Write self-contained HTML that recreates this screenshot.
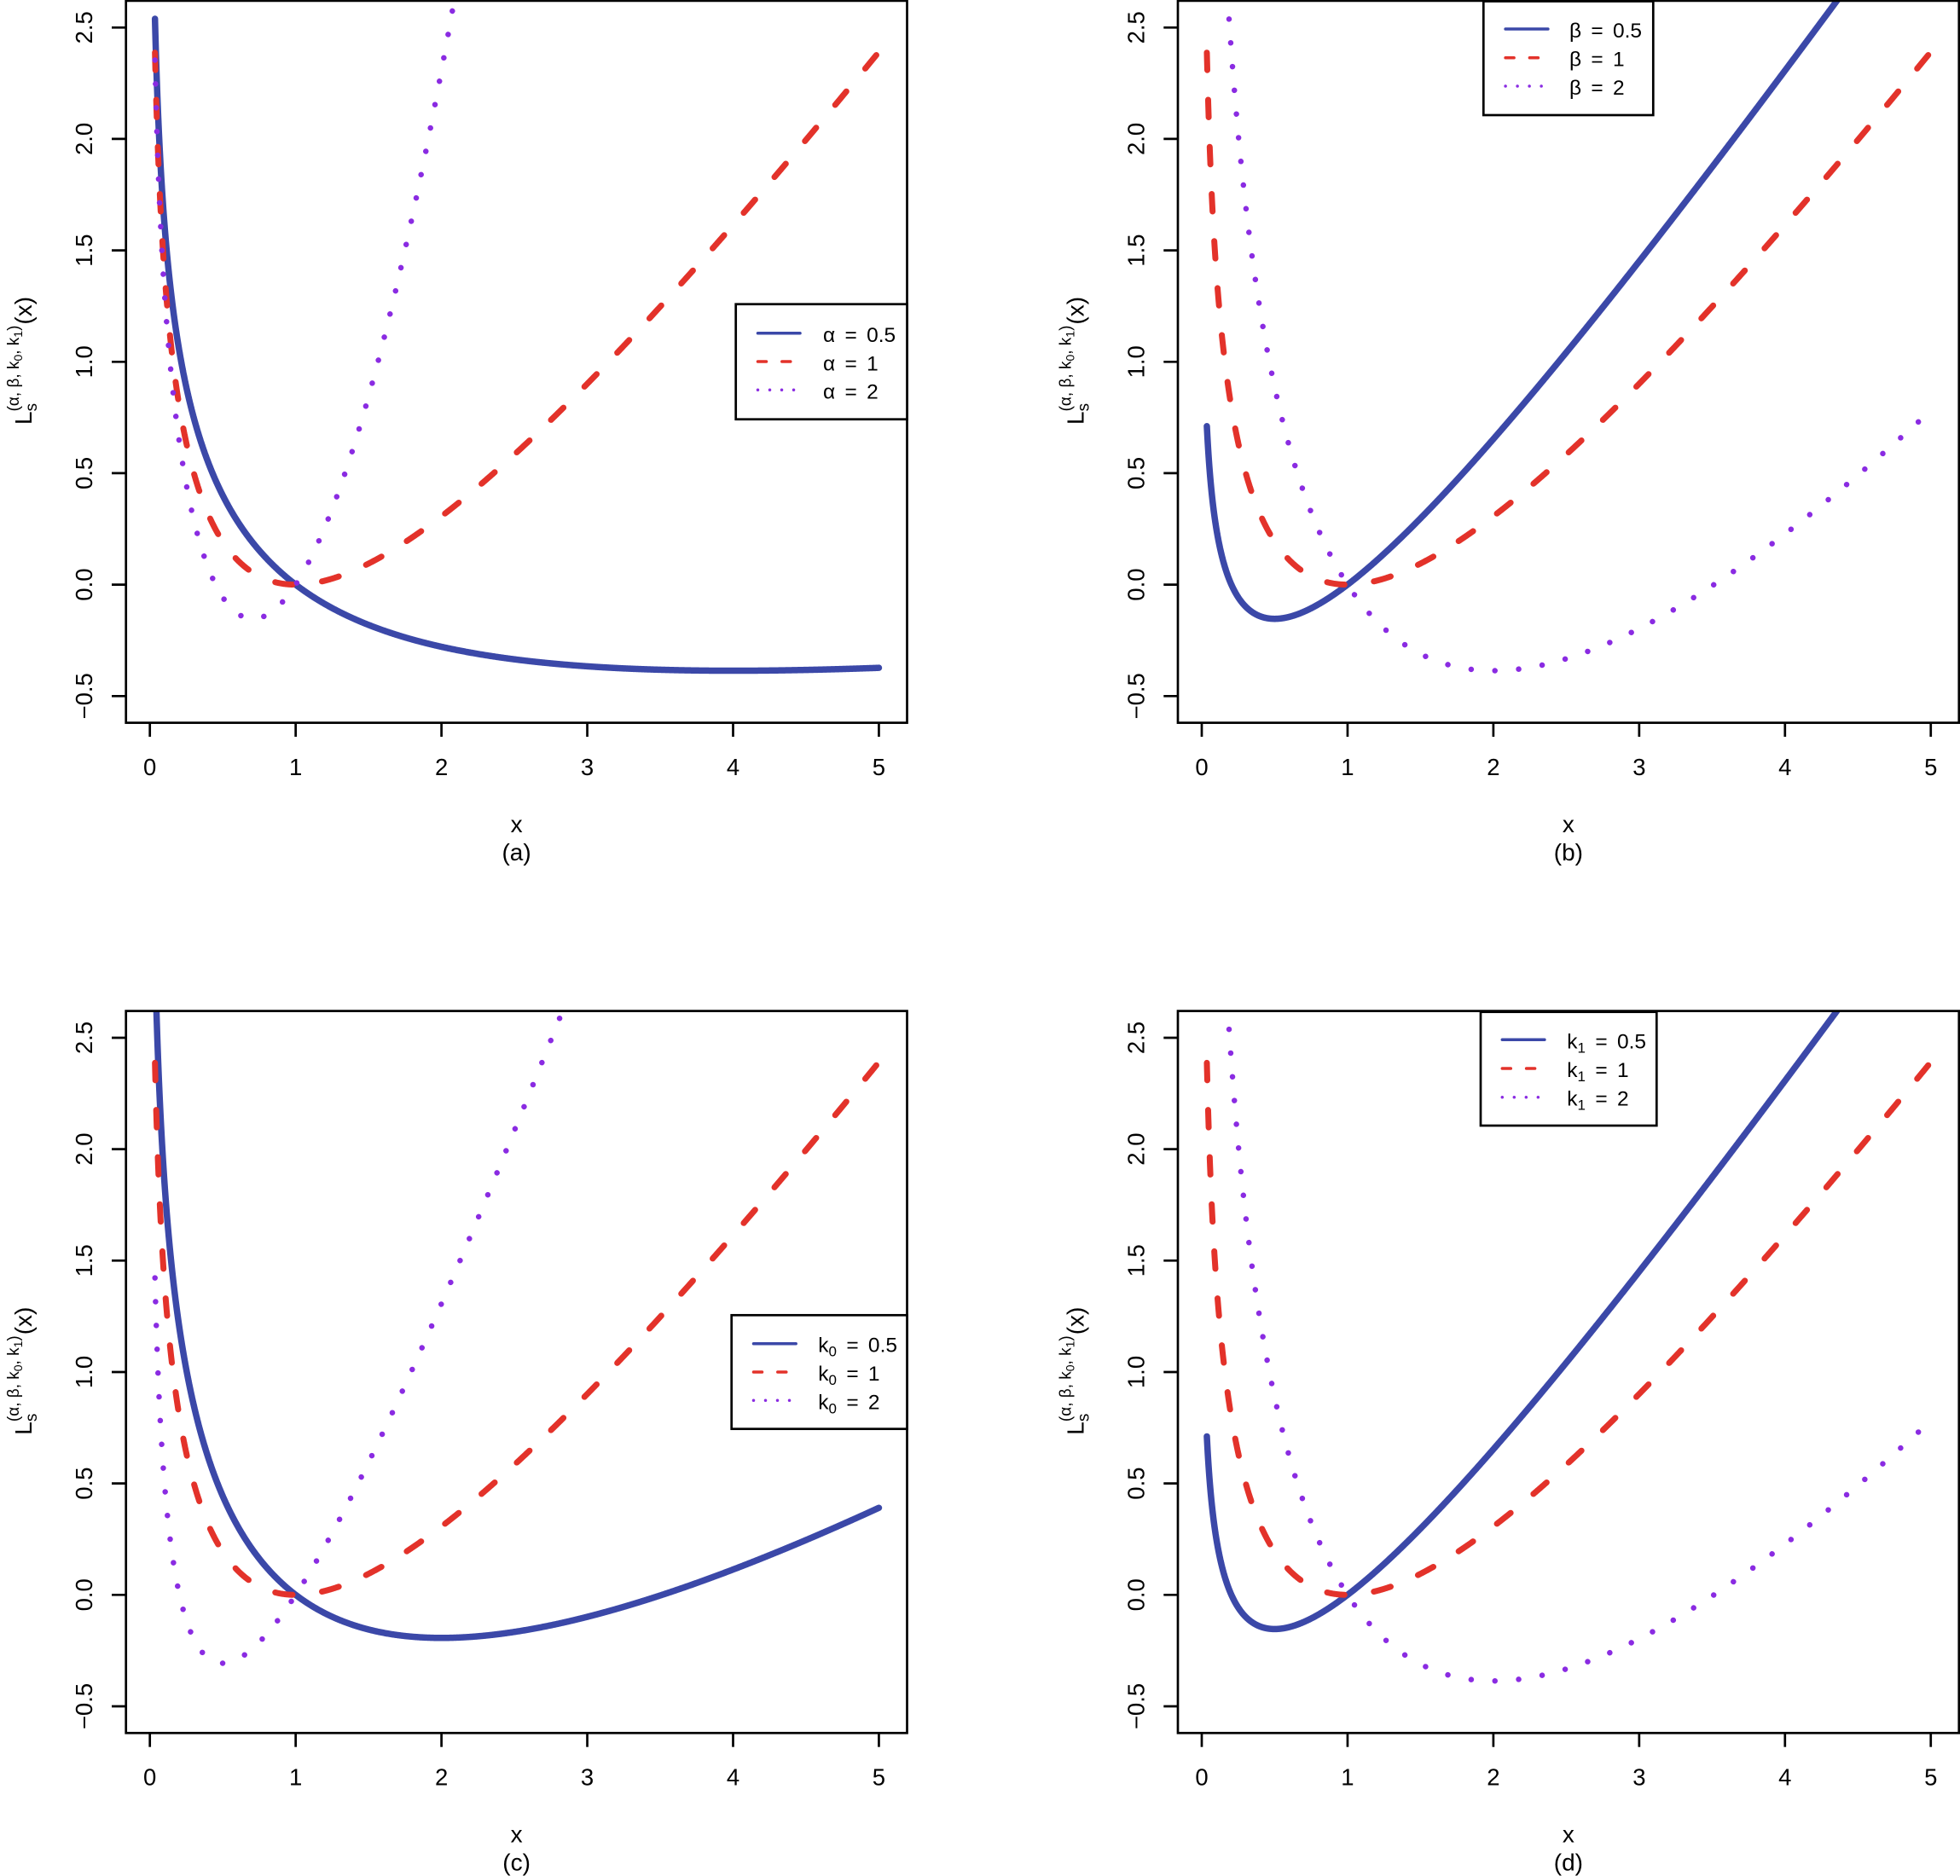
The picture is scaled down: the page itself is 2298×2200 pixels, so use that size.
<!DOCTYPE html>
<html>
<head>
<meta charset="utf-8">
<style>
html,body{margin:0;padding:0;background:#fff;}
svg{display:block;}
text{font-family:"Liberation Sans",Arial,sans-serif;fill:#000;}
.tk{font-size:27.5px;}
.lg{font-size:24.5px;word-spacing:4.5px;}
</style>
</head>
<body>
<svg id="s" xmlns="http://www.w3.org/2000/svg" width="2298" height="2200" viewBox="0 0 2298 2200">
<defs>
<clipPath id="clp" clipPathUnits="userSpaceOnUse"><rect x="147.7" y="0.9" width="915.8" height="846.7"/></clipPath>
<g id="axes">
<rect x="147.7" y="0.9" width="915.8" height="846.7" fill="none" stroke="#000" stroke-width="2.7"/>
<g stroke="#000" stroke-width="2.7">
<line x1="131" y1="816.3" x2="147.7" y2="816.3"/>
<line x1="131" y1="685.6" x2="147.7" y2="685.6"/>
<line x1="131" y1="554.9" x2="147.7" y2="554.9"/>
<line x1="131" y1="424.3" x2="147.7" y2="424.3"/>
<line x1="131" y1="293.6" x2="147.7" y2="293.6"/>
<line x1="131" y1="162.9" x2="147.7" y2="162.9"/>
<line x1="131" y1="32.3" x2="147.7" y2="32.3"/>
<line x1="175.7" y1="847.6" x2="175.7" y2="864"/>
<line x1="346.65" y1="847.6" x2="346.65" y2="864"/>
<line x1="517.6" y1="847.6" x2="517.6" y2="864"/>
<line x1="688.55" y1="847.6" x2="688.55" y2="864"/>
<line x1="859.5" y1="847.6" x2="859.5" y2="864"/>
<line x1="1030.45" y1="847.6" x2="1030.45" y2="864"/>
</g>
</g>
</defs>

<!-- Panel a -->
<g id="pa">
<g clip-path="url(#clp)" id="ca"></g>
<use href="#axes"/>
<g class="tk" text-anchor="middle">
<text transform="translate(108,816.3) rotate(-90)">−0.5</text>
<text transform="translate(108,685.6) rotate(-90)">0.0</text>
<text transform="translate(108,554.9) rotate(-90)">0.5</text>
<text transform="translate(108,424.3) rotate(-90)">1.0</text>
<text transform="translate(108,293.6) rotate(-90)">1.5</text>
<text transform="translate(108,162.9) rotate(-90)">2.0</text>
<text transform="translate(108,32.3) rotate(-90)">2.5</text>
<text x="175.7" y="909">0</text><text x="346.65" y="909">1</text><text x="517.6" y="909">2</text>
<text x="688.55" y="909">3</text><text x="859.5" y="909">4</text><text x="1030.45" y="909">5</text>
<text x="605.6" y="976" font-size="28">x</text>
<text x="605.6" y="1009" font-size="28">(a)</text>
</g>
<text transform="translate(37,498) rotate(-90)" font-size="28">L<tspan font-size="19" dy="6">s</tspan><tspan font-size="19" x="15.6" dy="-21">(α, β, k</tspan><tspan font-size="14" dy="4">0</tspan><tspan font-size="19" dy="-4">, k</tspan><tspan font-size="14" dy="4">1</tspan><tspan font-size="19" dy="-4">)</tspan><tspan dx="1" dy="15">(x)</tspan></text>
<rect x="862.7" y="356.7" width="200.8" height="135" fill="#fff" stroke="#000" stroke-width="2.7"/>
<line x1="888.5" y1="390.7" x2="938" y2="390.7" stroke="#3b48a8" stroke-width="3.5" stroke-linecap="round"/>
<line x1="888.5" y1="424" x2="938" y2="424" stroke="#e3322a" stroke-width="3.5" stroke-linecap="round" stroke-dasharray="10 18.3"/>
<line x1="888.5" y1="457.3" x2="938" y2="457.3" stroke="#8a2be2" stroke-width="3.5" stroke-linecap="round" stroke-dasharray="0.01 14"/>
<text class="lg" x="965" y="401">α = 0.5</text>
<text class="lg" x="965" y="434.3">α = 1</text>
<text class="lg" x="965" y="467.6">α = 2</text>
</g>

<!-- Panel b -->
<g id="pb" transform="translate(1233.3,0)">
<g clip-path="url(#clp)" id="cb"></g>
<use href="#axes"/>
<g class="tk" text-anchor="middle">
<text transform="translate(108,816.3) rotate(-90)">−0.5</text>
<text transform="translate(108,685.6) rotate(-90)">0.0</text>
<text transform="translate(108,554.9) rotate(-90)">0.5</text>
<text transform="translate(108,424.3) rotate(-90)">1.0</text>
<text transform="translate(108,293.6) rotate(-90)">1.5</text>
<text transform="translate(108,162.9) rotate(-90)">2.0</text>
<text transform="translate(108,32.3) rotate(-90)">2.5</text>
<text x="175.7" y="909">0</text><text x="346.65" y="909">1</text><text x="517.6" y="909">2</text>
<text x="688.55" y="909">3</text><text x="859.5" y="909">4</text><text x="1030.45" y="909">5</text>
<text x="605.6" y="976" font-size="28">x</text>
<text x="605.6" y="1009" font-size="28">(b)</text>
</g>
<text transform="translate(37,498) rotate(-90)" font-size="28">L<tspan font-size="19" dy="6">s</tspan><tspan font-size="19" x="15.6" dy="-21">(α, β, k</tspan><tspan font-size="14" dy="4">0</tspan><tspan font-size="19" dy="-4">, k</tspan><tspan font-size="14" dy="4">1</tspan><tspan font-size="19" dy="-4">)</tspan><tspan dx="1" dy="15">(x)</tspan></text>
<rect x="506" y="1.5" width="199" height="133.5" fill="#fff" stroke="#000" stroke-width="2.7"/>
<line x1="531.8" y1="34" x2="581.6" y2="34" stroke="#3b48a8" stroke-width="3.5" stroke-linecap="round"/>
<line x1="531.8" y1="67.7" x2="581.6" y2="67.7" stroke="#e3322a" stroke-width="3.5" stroke-linecap="round" stroke-dasharray="10 18.3"/>
<line x1="531.8" y1="101" x2="581.6" y2="101" stroke="#8a2be2" stroke-width="3.5" stroke-linecap="round" stroke-dasharray="0.01 14"/>
<text class="lg" x="606.7" y="44">β = 0.5</text>
<text class="lg" x="606.7" y="77.7">β = 1</text>
<text class="lg" x="606.7" y="111">β = 2</text>
</g>

<!-- Panel c -->
<g id="pc" transform="translate(0,1184.7)">
<g clip-path="url(#clp)" id="cc"></g>
<use href="#axes"/>
<g class="tk" text-anchor="middle">
<text transform="translate(108,816.3) rotate(-90)">−0.5</text>
<text transform="translate(108,685.6) rotate(-90)">0.0</text>
<text transform="translate(108,554.9) rotate(-90)">0.5</text>
<text transform="translate(108,424.3) rotate(-90)">1.0</text>
<text transform="translate(108,293.6) rotate(-90)">1.5</text>
<text transform="translate(108,162.9) rotate(-90)">2.0</text>
<text transform="translate(108,32.3) rotate(-90)">2.5</text>
<text x="175.7" y="909">0</text><text x="346.65" y="909">1</text><text x="517.6" y="909">2</text>
<text x="688.55" y="909">3</text><text x="859.5" y="909">4</text><text x="1030.45" y="909">5</text>
<text x="605.6" y="976" font-size="28">x</text>
<text x="605.6" y="1009" font-size="28">(c)</text>
</g>
<text transform="translate(37,498) rotate(-90)" font-size="28">L<tspan font-size="19" dy="6">s</tspan><tspan font-size="19" x="15.6" dy="-21">(α, β, k</tspan><tspan font-size="14" dy="4">0</tspan><tspan font-size="19" dy="-4">, k</tspan><tspan font-size="14" dy="4">1</tspan><tspan font-size="19" dy="-4">)</tspan><tspan dx="1" dy="15">(x)</tspan></text>
<rect x="857.7" y="357.6" width="205.8" height="133.4" fill="#fff" stroke="#000" stroke-width="2.7"/>
<line x1="883.5" y1="391" x2="933.2" y2="391" stroke="#3b48a8" stroke-width="3.5" stroke-linecap="round"/>
<line x1="883.5" y1="424.3" x2="933.2" y2="424.3" stroke="#e3322a" stroke-width="3.5" stroke-linecap="round" stroke-dasharray="10 18.3"/>
<line x1="883.5" y1="457.6" x2="933.2" y2="457.6" stroke="#8a2be2" stroke-width="3.5" stroke-linecap="round" stroke-dasharray="0.01 14"/>
<text class="lg" x="959.3" y="401">k<tspan font-size="17" dy="5">0</tspan><tspan dy="-5"> = 0.5</tspan></text>
<text class="lg" x="959.3" y="434.3">k<tspan font-size="17" dy="5">0</tspan><tspan dy="-5"> = 1</tspan></text>
<text class="lg" x="959.3" y="467.6">k<tspan font-size="17" dy="5">0</tspan><tspan dy="-5"> = 2</tspan></text>
</g>

<!-- Panel d -->
<g id="pd" transform="translate(1233.3,1184.7)">
<g clip-path="url(#clp)" id="cd"></g>
<use href="#axes"/>
<g class="tk" text-anchor="middle">
<text transform="translate(108,816.3) rotate(-90)">−0.5</text>
<text transform="translate(108,685.6) rotate(-90)">0.0</text>
<text transform="translate(108,554.9) rotate(-90)">0.5</text>
<text transform="translate(108,424.3) rotate(-90)">1.0</text>
<text transform="translate(108,293.6) rotate(-90)">1.5</text>
<text transform="translate(108,162.9) rotate(-90)">2.0</text>
<text transform="translate(108,32.3) rotate(-90)">2.5</text>
<text x="175.7" y="909">0</text><text x="346.65" y="909">1</text><text x="517.6" y="909">2</text>
<text x="688.55" y="909">3</text><text x="859.5" y="909">4</text><text x="1030.45" y="909">5</text>
<text x="605.6" y="976" font-size="28">x</text>
<text x="605.6" y="1009" font-size="28">(d)</text>
</g>
<text transform="translate(37,498) rotate(-90)" font-size="28">L<tspan font-size="19" dy="6">s</tspan><tspan font-size="19" x="15.6" dy="-21">(α, β, k</tspan><tspan font-size="14" dy="4">0</tspan><tspan font-size="19" dy="-4">, k</tspan><tspan font-size="14" dy="4">1</tspan><tspan font-size="19" dy="-4">)</tspan><tspan dx="1" dy="15">(x)</tspan></text>
<rect x="502.7" y="2" width="206.3" height="133.3" fill="#fff" stroke="#000" stroke-width="2.7"/>
<line x1="528" y1="34.6" x2="577.6" y2="34.6" stroke="#3b48a8" stroke-width="3.5" stroke-linecap="round"/>
<line x1="528" y1="68.3" x2="577.6" y2="68.3" stroke="#e3322a" stroke-width="3.5" stroke-linecap="round" stroke-dasharray="10 18.3"/>
<line x1="528" y1="102" x2="577.6" y2="102" stroke="#8a2be2" stroke-width="3.5" stroke-linecap="round" stroke-dasharray="0.01 14"/>
<text class="lg" x="604" y="44.6">k<tspan font-size="17" dy="5">1</tspan><tspan dy="-5"> = 0.5</tspan></text>
<text class="lg" x="604" y="78.3">k<tspan font-size="17" dy="5">1</tspan><tspan dy="-5"> = 1</tspan></text>
<text class="lg" x="604" y="112">k<tspan font-size="17" dy="5">1</tspan><tspan dy="-5"> = 2</tspan></text>
</g>
</svg>
<script>
(function(){
var NS="http://www.w3.org/2000/svg";
var OX=175.7, UX=170.95, OY=685.6, UY=261.33;
function pth(f){
  var d="", x=0.035, first=true;
  while(x<5){
    var y=f(x);
    d+=(first?"M":"L")+(OX+UX*x).toFixed(2)+" "+(OY-UY*y).toFixed(2);
    first=false;
    x+= x<0.6?0.0005:0.004;
  }
  d+="L"+(OX+UX*5).toFixed(2)+" "+(OY-UY*f(5)).toFixed(2);
  return d;
}
var L=Math.log;
var base=function(x){return x-1-L(x);};
var sets={
  ca:[function(x){return Math.sqrt(x)-1-L(x);},base,function(x){return x*x-1-L(x);}],
  cb:[function(x){return x-1-0.5*L(x);},base,function(x){return x-1-2*L(x);}],
  cc:[function(x){return 0.5*(x-1)-L(x);},base,function(x){return 2*(x-1)-L(x);}],
  cd:[function(x){return x-1-0.5*L(x);},base,function(x){return x-1-2*L(x);}]
};
var styles=[
  {c:"#3b48a8",w:7.5,da:null},
  {c:"#e3322a",w:7,da:"20.5 34.8"},
  {c:"#8a2be2",w:6.5,da:"0.01 27.9"}
];
for(var id in sets){
  var g=document.getElementById(id);
  for(var i=0;i<3;i++){
    var p=document.createElementNS(NS,"path");
    p.setAttribute("d",pth(sets[id][i]));
    p.setAttribute("fill","none");
    p.setAttribute("stroke",styles[i].c);
    p.setAttribute("stroke-width",styles[i].w);
    p.setAttribute("stroke-linecap","round");
    p.setAttribute("stroke-linejoin","round");
    if(styles[i].da)p.setAttribute("stroke-dasharray",styles[i].da);
    g.appendChild(p);
  }
}
})();
</script>
</body>
</html>
